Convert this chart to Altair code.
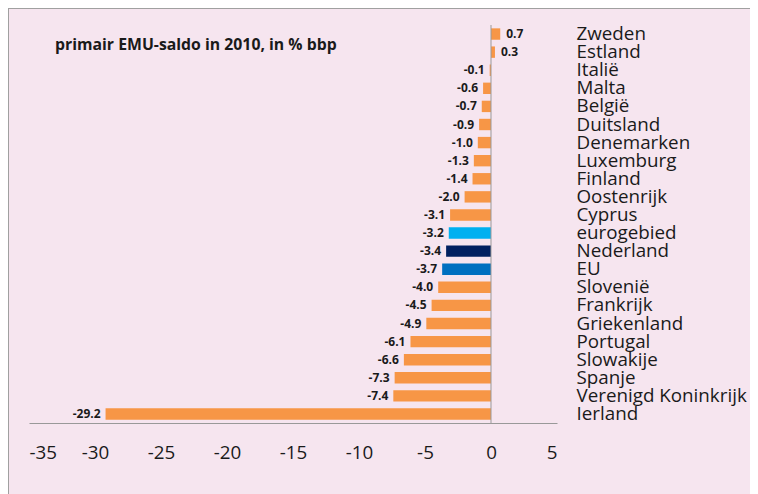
import altair as alt
import pandas as pd

countries = ["Zweden", "Estland", "Italië", "Malta", "België", "Duitsland", "Denemarken",
             "Luxemburg", "Finland", "Oostenrijk", "Cyprus", "eurogebied", "Nederland", "EU",
             "Slovenië", "Frankrijk", "Griekenland", "Portugal", "Slowakije", "Spanje",
             "Verenigd Koninkrijk", "Ierland"]
values = [0.7, 0.3, -0.1, -0.6, -0.7, -0.9, -1.0, -1.3, -1.4, -2.0, -3.1, -3.2, -3.4, -3.7,
          -4.0, -4.5, -4.9, -6.1, -6.6, -7.3, -7.4, -29.2]
groups = ["land"] * 11 + ["eurogebied", "Nederland", "EU"] + ["land"] * 8
labels = [f"{v:.1f}" for v in values]
x_ticks = [-35, -30, -25, -20, -15, -10, -5, 0, 5]
title_text = "primair EMU-saldo in 2010, in % bbp"

df = pd.DataFrame({"land": countries, "value": values, "groep": groups, "label": labels})

W, H = 528, 398
PAD = {"left": 21, "top": 17, "right": 193, "bottom": 71}
TOTAL_W = PAD["left"] + W + PAD["right"]
TOTAL_H = PAD["top"] + H + PAD["bottom"]
FONT = "Open Sans"
LABEL_SIZE = 18.8

xscale = alt.Scale(domain=[-35, 5], nice=False, zero=False)
xaxis = alt.Axis(values=x_ticks, labelExpr="toString(datum.value)", title=None,
                 ticks=False, grid=False, domainColor="#999999", domainWidth=1,
                 labelPadding=20, labelFontSize=LABEL_SIZE, labelFont=FONT,
                 labelColor="#1a1a1a")
yenc = alt.Y("land:N", sort=countries,
             scale=alt.Scale(paddingInner=0.37, paddingOuter=0.185),
             axis=alt.Axis(orient="right", title=None, ticks=False, domain=False,
                           labelPadding=19, labelFontSize=LABEL_SIZE, labelFont=FONT,
                           labelColor="#1a1a1a", labelLimit=300))

bars = alt.Chart(df).mark_bar().encode(
    x=alt.X("value:Q", scale=xscale, axis=xaxis),
    x2=alt.datum(0),
    y=yenc,
    color=alt.Color("groep:N",
                    scale=alt.Scale(domain=["land", "eurogebied", "Nederland", "EU"],
                                    range=["#f79646", "#00b0f0", "#002060", "#0070c0"]),
                    legend=None),
)

neg_text = alt.Chart(df).transform_filter("datum.value < 0").mark_text(
    align="right", baseline="middle", dx=-5, font=FONT, fontSize=12, fontWeight="bold",
    color="#1a1a1a").encode(x=alt.X("value:Q", scale=xscale, axis=xaxis), y=yenc, text="label:N")

pos_text = alt.Chart(df).transform_filter("datum.value >= 0").mark_text(
    align="left", baseline="middle", dx=6, font=FONT, fontSize=12, fontWeight="bold",
    color="#1a1a1a").encode(x=alt.X("value:Q", scale=xscale, axis=xaxis), y=yenc, text="label:N")

zero_rule = alt.Chart(pd.DataFrame({"value": [0]})).mark_rule(color="#999999", strokeWidth=1).encode(
    x=alt.X("value:Q", scale=xscale, axis=xaxis), y=alt.value(0), y2=alt.value(H))

title = alt.Chart(pd.DataFrame({"t": [title_text]})).mark_text(
    align="left", baseline="middle", font=FONT, fontSize=15.8, fontWeight="bold",
    color="#1a1a1a").encode(text="t:N", x=alt.value(26), y=alt.value(20))

one = pd.DataFrame({"a": [0]})
top_border = alt.Chart(one).mark_rule(color="#a0a0a0", strokeWidth=1).encode(
    x=alt.value(-PAD["left"]), x2=alt.value(TOTAL_W - PAD["left"]), y=alt.value(-PAD["top"] + 0.5))
left_border = alt.Chart(one).mark_rule(color="#a0a0a0", strokeWidth=1).encode(
    x=alt.value(-PAD["left"] + 0.5), y=alt.value(-PAD["top"]), y2=alt.value(TOTAL_H - PAD["top"]))

chart = alt.layer(bars, neg_text, pos_text, zero_rule, title, top_border, left_border).properties(
    width=W, height=H, padding=PAD, autosize="none", background="#f6e5ef"
).configure_view(strokeWidth=0)

chart.save("out.html", embed_options={"renderer": "svg", "actions": False})
